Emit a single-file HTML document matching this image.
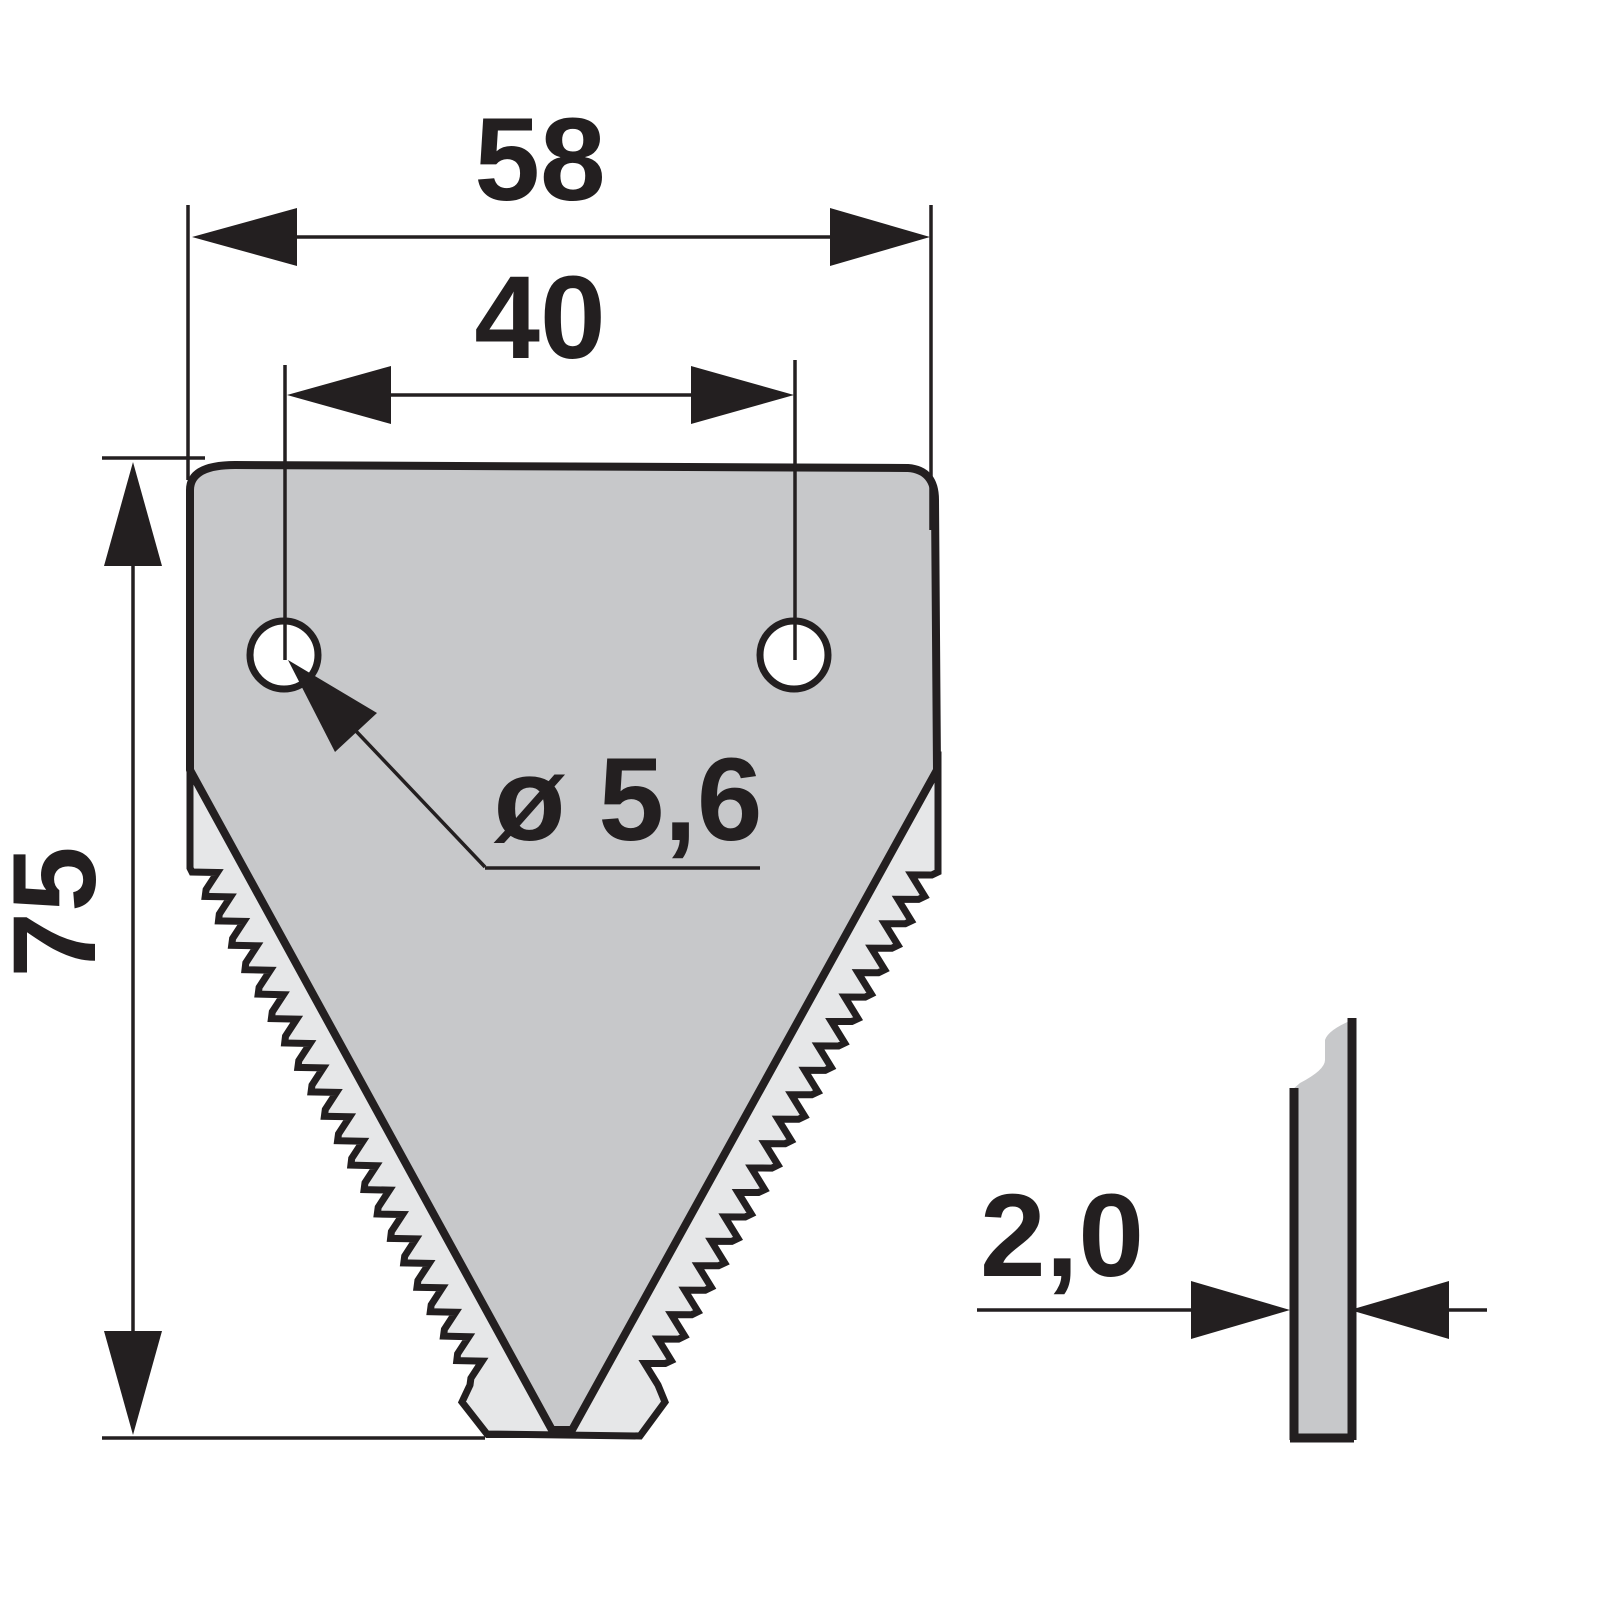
<!DOCTYPE html>
<html><head><style>html,body{margin:0;padding:0;background:#fff;width:1600px;height:1600px;overflow:hidden}svg{display:block;position:absolute;left:0;top:0}
text{font-family:"Liberation Sans",Arial,sans-serif;font-weight:bold;fill:#231f20}</style></head>
<body>
<svg id="s" width="1600" height="1600" viewBox="0 0 1600 1600" xmlns="http://www.w3.org/2000/svg">
<polygon id="light" fill="#e6e7e8" stroke="#231f20" stroke-width="7" stroke-linejoin="miter" points=""/>
<path d="M190,770 L190,490 Q190,465 235,465 L908,468 Q935,470 935,500 L937,770 L572,1430 L552,1430 Z" fill="#c7c8ca" stroke="#231f20" stroke-width="8" stroke-linejoin="round"/>
<line x1="486" y1="1436" x2="592" y2="1436" stroke="#231f20" stroke-width="4"/>
<circle cx="284" cy="655" r="34" fill="#fff" stroke="#231f20" stroke-width="7"/>
<circle cx="794" cy="655" r="34" fill="#fff" stroke="#231f20" stroke-width="7"/>
<g stroke="#231f20" stroke-width="3.5" fill="none">
<line x1="188" y1="205" x2="188" y2="480"/>
<line x1="931" y1="205" x2="931" y2="530"/>
<line x1="285" y1="365" x2="285" y2="660"/>
<line x1="795" y1="360" x2="795" y2="660"/>
<line x1="290" y1="237" x2="835" y2="237"/>
<line x1="385" y1="395" x2="695" y2="395"/>
<line x1="102" y1="458" x2="205" y2="458"/>
<line x1="102" y1="1438" x2="485" y2="1438"/>
<line x1="133" y1="560" x2="133" y2="1335"/>
<polyline points="485,867 355,730"/>
<line x1="485" y1="868" x2="760" y2="868"/>
<line x1="977" y1="1310" x2="1195" y2="1310"/>
<line x1="1445" y1="1310" x2="1487" y2="1310"/>
<line x1="1296" y1="1310" x2="1352" y2="1310" stroke-width="2.5"/>
</g>
<g fill="#231f20">
<polygon points="192,237 297,208 297,266"/>
<polygon points="930,237 830,208 830,266"/>
<polygon points="287,395 391,366 391,424"/>
<polygon points="794,395 691,366 691,424"/>
<polygon points="133,462 104,566 162,566"/>
<polygon points="133,1435 104,1331 162,1331"/>
<polygon points="288,660 377,713 335,752"/>
<polygon points="1290,1310 1191,1281 1191,1339"/>
<polygon points="1350,1310 1449,1281 1449,1339"/>
</g>
<path d="M1292,1440 L1292,1090 L1300,1083 Q1325,1070 1325,1060 L1325,1040 Q1328,1030 1352,1020 L1352,1440 Z" fill="#c7c8ca"/>
<path d="M1294,1440 L1294,1088 M1352,1018 L1352,1440 M1290,1438 L1354,1438" stroke="#231f20" stroke-width="9" fill="none"/>
<text x="540" y="200" font-size="118" text-anchor="middle">58</text>
<text x="540" y="358" font-size="118" text-anchor="middle">40</text>
<text x="628" y="840" font-size="118" text-anchor="middle">ø 5,6</text>
<text x="1062" y="1276" font-size="118" text-anchor="middle">2,0</text>
<text transform="translate(95,912) rotate(-90)" font-size="118" text-anchor="middle">75</text>
</svg>
<script>
function teeth(ax,ay,bx,by,n,side){
 var dx=bx-ax,dy=by-ay,L=Math.hypot(dx,dy),ux=dx/L,uy=dy/L;
 var nx=side*uy,ny=-side*ux; var pts=[];
 for(var i=0;i<n;i++){var t=i/n*L,t2=(i+0.45)/n*L,t3=(i+0.8)/n*L;
  pts.push([ax+ux*t,ay+uy*t]);
  pts.push([ax+ux*t2+nx*22,ay+uy*t2+ny*22]);
  pts.push([ax+ux*t3+nx*4,ay+uy*t3+ny*4]);}
 pts.push([bx,by]);return pts;}
var left=teeth(192,872,470,1385,21,1);
var right=teeth(658,1385,938,872,21,1);
var p=[[190,755],[190,868]].concat(left,[[462,1402],[487,1434],[640,1436],[665,1402]],right,[[938,868],[938,755]]);
document.getElementById('light').setAttribute('points',p.map(function(a){return a[0].toFixed(1)+','+a[1].toFixed(1)}).join(' '));
</script>
</body></html>
